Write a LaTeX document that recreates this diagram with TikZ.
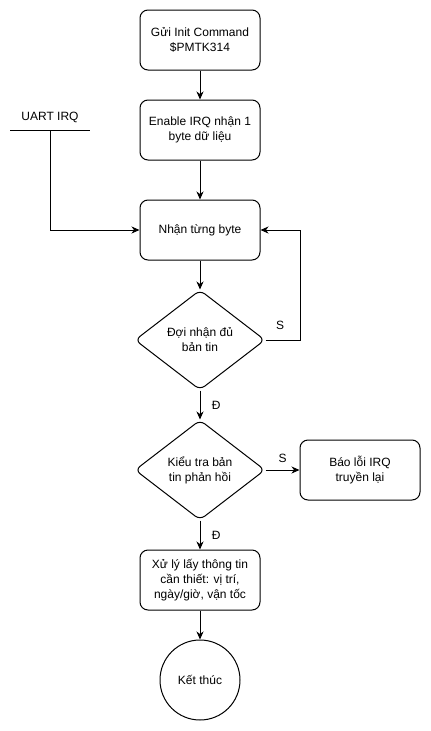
\documentclass[tikz,border=0pt]{standalone}
\usepackage{fontspec}
\setmainfont{Liberation Sans}
\usetikzlibrary{arrows.meta,shapes.geometric}

\begin{document}
\begin{tikzpicture}[x=1pt,y=-1pt,
    every node/.style={font=\fontsize{12}{15}\selectfont},
    procbox/.style={draw,line width=1pt,rounded corners=8pt,minimum width=120pt,minimum height=60pt,align=center},
    decide/.style={draw,diamond,line width=1pt,rounded corners=6pt,minimum width=130pt,minimum height=100pt,inner sep=0pt,align=center},
    endcirc/.style={draw,circle,line width=1pt,minimum size=80pt,align=center},
    arr/.style={-{Stealth[length=8pt,width=7pt,inset=2.5pt]},line width=1pt}
  ]
    \useasboundingbox (0,0) rectangle (431,731);

    \node[procbox] (init) at (200,40) {Gửi Init Command\\\$PMTK314};
    \node[procbox] (enirq) at (200,130) {Enable IRQ nhận 1\\byte dữ liệu};
    \node[procbox] (recv) at (200,230) {Nhận từng byte};
    \node[decide] (wait) at (200,340) {Đợi nhận đủ\\bản tin};
    \node[decide] (check) at (200,470) {Kiểu tra bản\\tin phản hồi};
    \node[procbox] (err) at (360,470) {Báo lỗi IRQ\\truyền lại};
    \node[procbox] (proc) at (200,580) {Xử lý lấy thông tin\\cần thiết: vị trí,\\ngày/giờ, vận tốc};
    \node[endcirc] (done) at (200,680) {Kết thúc};

    % UART IRQ input
    \node (uart) at (50,117) {UART IRQ};
    \coordinate (uartl) at (10,130);
    \coordinate (uartr) at (90,130);
    \coordinate (uartin) at (50,130);
    \draw[line width=1pt] (uartl) -- (uartr);
    \draw[arr] (uartin) |- (recv.west);

    \draw[arr] (init) -- (enirq);
    \draw[arr] (enirq) -- (recv);
    \draw[arr] (recv) -- (wait);
    \draw[arr] (wait) -- node[right=8pt] {Đ} (check);
    \draw[arr] (check) -- node[above=4pt] {S} (err);
    \draw[arr] (check) -- node[right=8pt] {Đ} (proc);
    \draw[arr] (proc) -- (done);

    % loop back
    \coordinate (loopx) at (300,0);
    \draw[arr] (wait.east) -- (wait.east -| loopx) |- (recv.east);
    \node (sloop) at (280,325) {S};
\end{tikzpicture}
\end{document}
